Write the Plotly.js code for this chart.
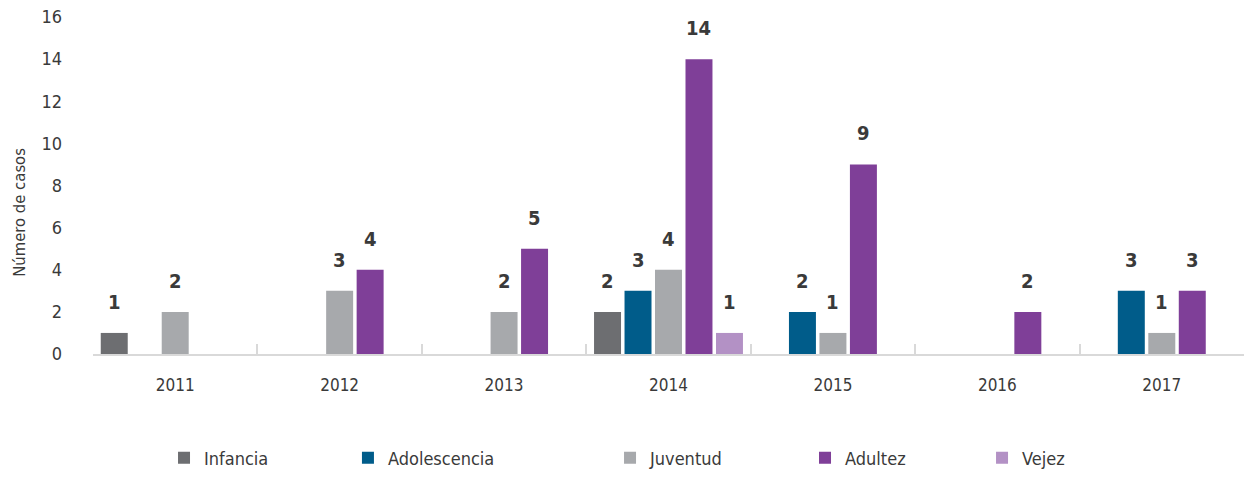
<!DOCTYPE html>
<html>
<head>
<meta charset="utf-8">
<script src="https://cdn.plot.ly/plotly-3.0.1.min.js"></script>
<style>html,body{margin:0;padding:0;background:#fff;}#chart{width:1246px;height:479px;}</style>
</head>
<body>
<div id="chart"></div>
<script>
const years = ['2011','2012','2013','2014','2015','2016','2017'];
const seriesNames = ['Infancia','Adolescencia','Juventud','Adultez','Vejez'];
const infancia     = [1,0,0,2,0,0,0];
const adolescencia = [0,0,0,3,2,0,3];
const juventud     = [2,3,2,4,1,0,1];
const adultez      = [0,4,5,14,9,2,3];
const vejez        = [0,0,0,1,0,0,0];
const colors = ['#6d6e71','#005c8a','#a7a9ac','#7f3f98','#b391c5'];
const legendX = [0.0617,0.2215,0.4492,0.6186,0.7724];

const allValues = [infancia, adolescencia, juventud, adultez, vejez];
const FONT = '"DejaVu Sans Condensed","Liberation Sans Narrow",sans-serif';
const bargap = 0.073;

const traces = allValues.map((vals, j) => ({
  type: 'bar',
  name: seriesNames[j],
  x: years,
  y: vals,
  marker: {color: colors[j], line: {width: 0}},
  legend: j === 0 ? 'legend' : 'legend' + (j + 1),
  hoverinfo: 'x+y+name'
}));

const annotations = [];
const slot = (1 - bargap) / seriesNames.length;
allValues.forEach((vals, j) => {
  vals.forEach((v, i) => {
    if (v > 0) {
      annotations.push({
        x: i + (j - (seriesNames.length - 1) / 2) * slot,
        y: v, xref: 'x', yref: 'y',
        text: '<b>' + v + '</b>', showarrow: false,
        yanchor: 'bottom', yshift: 17,
        font: {family: FONT, size: 20, color: '#3a3a3a'}
      });
    }
  });
});
annotations.push({
  text: 'Número de casos', xref: 'paper', yref: 'paper',
  x: -0.064, y: 0.42, xanchor: 'center', yanchor: 'middle',
  textangle: -90, showarrow: false,
  font: {family: FONT, size: 16.5, color: '#3a3a3a'}
});

const layout = {
  width: 1246, height: 479,
  margin: {l: 93, r: 2, t: 17, b: 122},
  paper_bgcolor: '#ffffff', plot_bgcolor: '#ffffff',
  barmode: 'group', bargap: bargap, bargroupgap: 0.115,
  font: {family: FONT, size: 18, color: '#3a3a3a'},
  xaxis: {
    type: 'category',
    showline: true, linecolor: '#d9d9d9', linewidth: 2,
    ticks: 'inside', tickson: 'boundaries', ticklen: 10, tickwidth: 2, tickcolor: '#d9d9d9',
    ticklabelstandoff: 15,
    tickfont: {family: FONT, size: 17, color: '#3a3a3a'},
    showgrid: false, zeroline: false, fixedrange: true
  },
  yaxis: {
    range: [0, 16], dtick: 2, tick0: 0,
    showgrid: false, zeroline: false, showline: false,
    ticks: '', ticklabelstandoff: 30,
    tickfont: {family: FONT, size: 18, color: '#3a3a3a'},
    fixedrange: true
  },
  annotations: annotations,
  showlegend: true
};
seriesNames.forEach((n, j) => {
  const key = j === 0 ? 'legend' : 'legend' + (j + 1);
  layout[key] = {
    orientation: 'h', x: legendX[j], y: -0.309,
    xanchor: 'left', yanchor: 'middle',
    bgcolor: 'rgba(0,0,0,0)', borderwidth: 0,
    font: {family: FONT, size: 18, color: '#3a3a3a'},
    itemwidth: 30
  };
});

Plotly.newPlot('chart', traces, layout, {displayModeBar: false, staticPlot: true});
</script>
</body>
</html>
